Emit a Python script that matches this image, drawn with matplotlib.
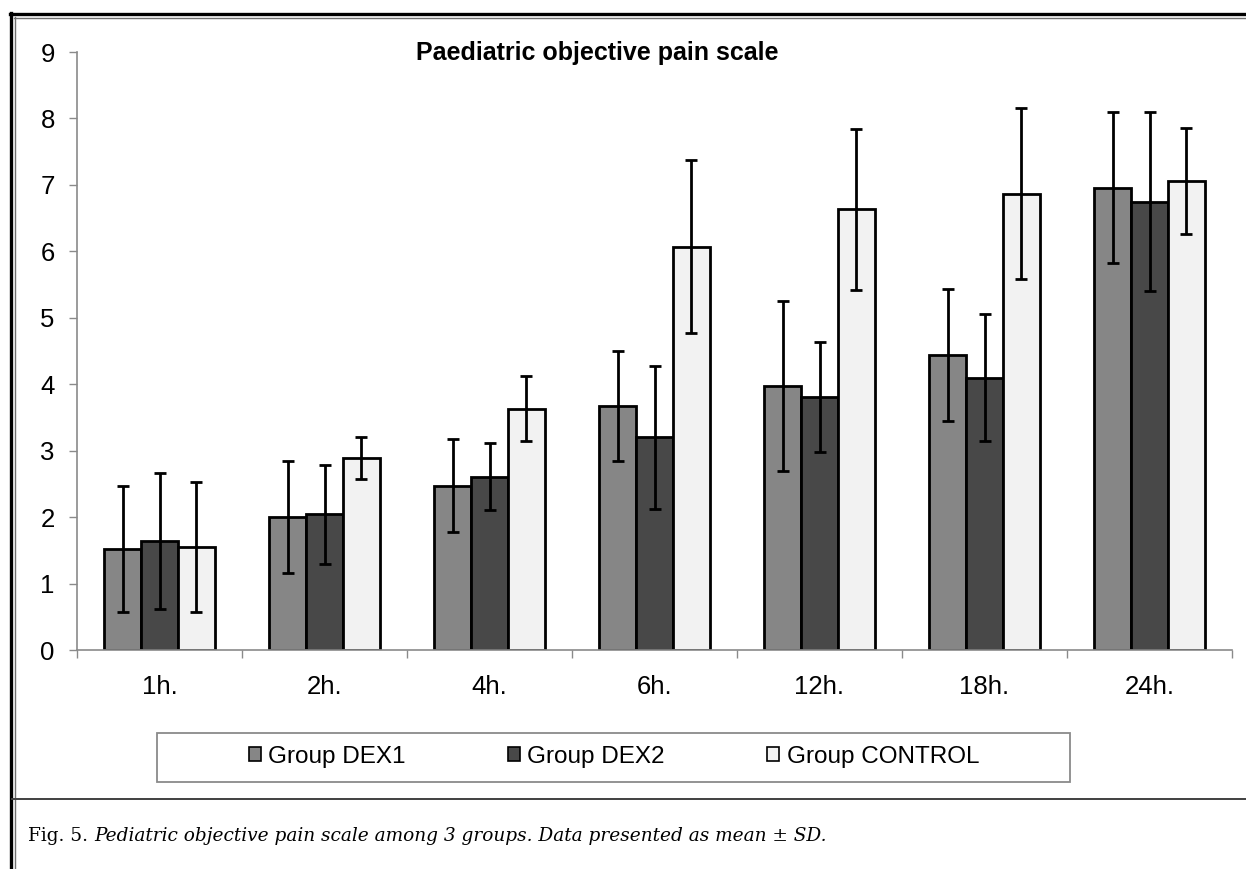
#!/usr/bin/env python3
"""Paediatric objective pain scale, three groups, mean +/- SD."""

import matplotlib
matplotlib.use("Agg")
import matplotlib.pyplot as plt
import numpy as np
from matplotlib.lines import Line2D
from matplotlib.patches import Patch, Rectangle

TIMES = ["1h.", "2h.", "4h.", "6h.", "12h.", "18h.", "24h."]
GROUPS = ["Group DEX1", "Group DEX2", "Group CONTROL"]

DEX1_MEAN = [1.52, 2.00, 2.47, 3.67, 3.98, 4.44, 6.96]
DEX1_SD = [0.95, 0.84, 0.70, 0.83, 1.28, 1.00, 1.14]
DEX2_MEAN = [1.64, 2.04, 2.61, 3.20, 3.81, 4.10, 6.75]
DEX2_SD = [1.03, 0.75, 0.50, 1.08, 0.83, 0.95, 1.34]
CONTROL_MEAN = [1.55, 2.89, 3.63, 6.07, 6.63, 6.87, 7.06]
CONTROL_SD = [0.98, 0.32, 0.49, 1.30, 1.21, 1.29, 0.80]

COLORS = ["#868686", "#484848", "#f2f2f2"]
AXIS_GRAY = "#8a8a8a"
FONT = "Liberation Sans"

W, H = 1246, 869


def fx(px):
    return px / W


def fy(py):
    return 1 - py / H


fig = plt.figure(figsize=(W / 100, H / 100), dpi=100)
fig.patch.set_facecolor("white")

ax = fig.add_axes([fx(77), fy(650), fx(1232) - fx(77), fy(52) - fy(650)])

means = [DEX1_MEAN, DEX2_MEAN, CONTROL_MEAN]
sds = [DEX1_SD, DEX2_SD, CONTROL_SD]
x = np.arange(len(TIMES))
width = 0.224
for i, (m, s) in enumerate(zip(means, sds)):
    ax.bar(x + (i - 1) * width, m, width, color=COLORS[i], edgecolor="black",
           linewidth=2.0, zorder=2)
    ax.errorbar(x + (i - 1) * width, m, yerr=s, fmt="none", ecolor="black",
                elinewidth=2.0, capsize=4.3, capthick=2.0, zorder=3)

ax.set_xlim(-0.5, len(TIMES) - 0.5)
ax.set_ylim(0, 9)
ax.set_yticks(range(10))
ax.set_xticks(np.arange(len(TIMES) + 1) - 0.5)
ax.set_xticklabels([])
ax.set_xticks(x, minor=True)
ax.set_xticklabels(TIMES, minor=True)
ax.tick_params(axis="x", which="minor", length=0, pad=18, labelsize=18.5)
ax.tick_params(axis="x", which="major", length=6, width=1, color=AXIS_GRAY, direction="out")
ax.tick_params(axis="y", length=6, width=1, color=AXIS_GRAY, pad=10, labelsize=18.5)
for lab in ax.get_xticklabels(minor=True) + ax.get_yticklabels():
    lab.set_fontfamily(FONT)
for side in ["top", "right"]:
    ax.spines[side].set_visible(False)
for side in ["left", "bottom"]:
    ax.spines[side].set_color(AXIS_GRAY)
    ax.spines[side].set_linewidth(1.2)

fig.text(fx(597), fy(53), "Paediatric objective pain scale", ha="center", va="center",
         fontsize=18, fontweight="bold", family=FONT)

# legend box
fig.add_artist(Rectangle((fx(157), fy(782)), fx(1070) - fx(157), fy(733) - fy(782),
                         transform=fig.transFigure, facecolor="white",
                         edgecolor=AXIS_GRAY, linewidth=1.3))
handles = [Patch(facecolor=c, edgecolor="black", linewidth=1.2) for c in COLORS]
fig.legend(handles, GROUPS, loc="center", bbox_to_anchor=(fx(614), fy(757)), ncol=3,
           frameon=False, prop={"family": FONT, "size": 17.5}, handlelength=0.5,
           handleheight=0.5, handletextpad=0.3, columnspacing=4.2)

# page borders
fig.add_artist(Line2D([fx(11), fx(11)], [0, fy(13)], transform=fig.transFigure,
                      color="black", linewidth=2.4))
fig.add_artist(Line2D([fx(14.5), fx(14.5)], [0, fy(16.5)], transform=fig.transFigure,
                      color="#707070", linewidth=1.0))
fig.add_artist(Line2D([fx(10), 1], [fy(14), fy(14)], transform=fig.transFigure,
                      color="black", linewidth=2.4))
fig.add_artist(Line2D([fx(14), 1], [fy(17.5), fy(17.5)], transform=fig.transFigure,
                      color="#707070", linewidth=1.0))
fig.add_artist(Line2D([fx(12), 1], [fy(799), fy(799)], transform=fig.transFigure,
                      color="#404040", linewidth=1.4))

# caption: upright label followed by italic text
cap1 = fig.text(fx(28), fy(836), "Fig. 5. ", ha="left", va="center",
                fontsize=13.3, family="DejaVu Serif")
fig.canvas.draw()
bb = cap1.get_window_extent(renderer=fig.canvas.get_renderer())
fig.text(bb.x1 / fig.bbox.width, fy(836),
         "Pediatric objective pain scale among 3 groups. Data presented as mean \u00b1 SD.",
         ha="left", va="center", fontsize=13.3, family="DejaVu Serif", style="italic")

fig.savefig("out.png", dpi=100, facecolor="white")
